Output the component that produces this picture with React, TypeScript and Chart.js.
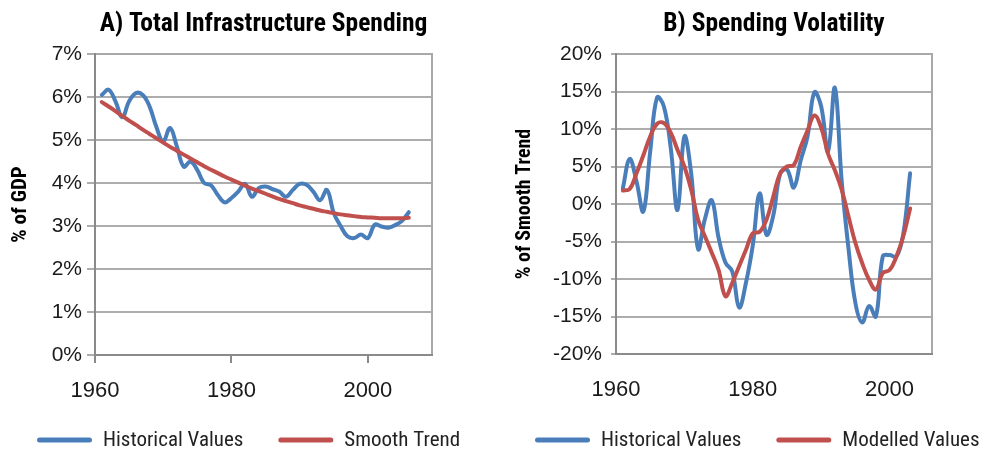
import React, { useEffect, useRef } from 'react';
import { Chart, registerables } from 'chart.js';

Chart.register(...registerables);

const COND = '"Roboto Condensed", "DejaVu Sans Condensed", sans-serif';
const SANS = '"Liberation Sans", Arial, sans-serif';
const BLUE = '#4a7ebb';
const RED = '#c0504d';
const GRID = '#adadad';
const AXIS = '#8a8a8a';
const FRAME = '#a9a9a9';
const TEXT = '#1a1a1a';

// ---- Panel A: Total Infrastructure Spending (% of GDP) ----
const yearsA = [
  1961, 1962, 1963, 1964, 1965, 1966, 1967, 1968, 1969, 1970,
  1971, 1972, 1973, 1974, 1975, 1976, 1977, 1978, 1979, 1980,
  1981, 1982, 1983, 1984, 1985, 1986, 1987, 1988, 1989, 1990,
  1991, 1992, 1993, 1994, 1995, 1996, 1997, 1998, 1999, 2000,
  2001, 2002, 2003, 2004, 2005, 2006,
];
const historicalA = [
  6.05, 6.17, 5.90, 5.53, 5.90, 6.09, 6.05, 5.78, 5.30, 4.97,
  5.28, 4.85, 4.38, 4.50, 4.30, 4.00, 3.95, 3.72, 3.55, 3.65,
  3.80, 3.98, 3.68, 3.88, 3.92, 3.86, 3.80, 3.68, 3.84, 3.98,
  3.96, 3.80, 3.60, 3.84, 3.30, 3.00, 2.76, 2.72, 2.80, 2.72,
  3.03, 2.99, 2.96, 3.02, 3.12, 3.32,
];
const trendA = [
  5.88, 5.78, 5.67, 5.56, 5.45, 5.35, 5.24, 5.14, 5.04, 4.94,
  4.84, 4.75, 4.66, 4.57, 4.48, 4.39, 4.31, 4.23, 4.15, 4.08,
  4.01, 3.94, 3.87, 3.81, 3.75, 3.69, 3.63, 3.58, 3.53, 3.48,
  3.44, 3.40, 3.36, 3.33, 3.30, 3.27, 3.25, 3.23, 3.21, 3.20,
  3.19, 3.18, 3.18, 3.18, 3.18, 3.19,
];

// ---- Panel B: Spending Volatility (% of smooth trend) ----
const yearsB = [
  1961, 1962, 1963, 1964, 1965, 1966, 1967, 1968, 1969, 1970,
  1971, 1972, 1973, 1974, 1975, 1976, 1977, 1978, 1979, 1980,
  1981, 1982, 1983, 1984, 1985, 1986, 1987, 1988, 1989, 1990,
  1991, 1992, 1993, 1994, 1995, 1996, 1997, 1998, 1999, 2000,
  2001, 2002, 2003,
];
const historicalB = [
  2.1, 6.0, 3.0, -1.0, 7.0, 14.2, 13.0, 7.5, -0.8, 9.0,
  4.0, -6.0, -2.0, 0.5, -4.5, -7.8, -9.0, -13.8, -10.5, -5.5,
  1.4, -4.1, -1.5, 4.0, 4.6, 2.2, 5.8, 9.0, 14.9, 13.0,
  7.0, 15.5, 3.0, -6.0, -13.2, -15.8, -13.6, -15.0, -7.0, -6.8,
  -7.0, -4.0, 4.1,
];
const modelledB = [
  1.8, 2.0, 4.1, 6.5, 9.0, 10.7, 10.8, 9.5, 7.2, 5.0,
  1.9, -2.1, -4.3, -6.5, -8.8, -12.3, -10.5, -8.3, -6.1, -3.9,
  -3.7, -2.1, 1.0, 4.1, 5.0, 5.2, 7.6, 9.8, 11.8, 10.2,
  6.7, 4.5, 1.9, -1.7, -5.2, -7.9, -10.1, -11.4, -9.2, -8.8,
  -7.0, -4.3, -0.6,
];

const xTickValues = [1960, 1980, 2000];

const titleA = 'A) Total Infrastructure Spending';
const titleB = 'B) Spending Volatility';
const yTitleA = '% of GDP';
const yTitleB = '% of Smooth Trend';
const legendA = ['Historical Values', 'Smooth Trend'];
const legendB = ['Historical Values', 'Modelled Values'];

// ---- plugins ----
const panelTitle = {
  id: 'panelTitle',
  afterDraw(chart: any, _args: any, opts: any) {
    const { ctx, chartArea } = chart;
    ctx.save();
    ctx.font = `bold 25.5px ${COND}`;
    ctx.fillStyle = '#000';
    ctx.textAlign = 'center';
    ctx.textBaseline = 'alphabetic';
    ctx.fillText(opts.text, (chartArea.left + chartArea.right) / 2, 31);
    ctx.restore();
  },
};

const panelLegend = {
  id: 'panelLegend',
  afterDraw(chart: any, _args: any, opts: any) {
    const { ctx } = chart;
    ctx.save();
    ctx.font = `21px ${COND}`;
    ctx.textBaseline = 'middle';
    ctx.textAlign = 'left';
    let x = opts.x;
    const y = opts.y;
    const sampleW = 55;
    chart.data.datasets
      .slice()
      .sort((a: any, b: any) => a.legendIndex - b.legendIndex)
      .forEach((ds: any) => {
        ctx.strokeStyle = ds.borderColor;
        ctx.lineWidth = 5;
        ctx.lineCap = 'round';
        ctx.beginPath();
        ctx.moveTo(x + 2.5, y);
        ctx.lineTo(x + sampleW - 2.5, y);
        ctx.stroke();
        ctx.fillStyle = '#222';
        ctx.fillText(ds.label, x + sampleW + 11, y + 1);
        x += sampleW + 11 + ctx.measureText(ds.label).width + 35;
      });
    ctx.restore();
  },
};

const plotFrame = {
  id: 'plotFrame',
  beforeDatasetsDraw(chart: any) {
    const { ctx, chartArea: a } = chart;
    ctx.save();
    ctx.lineCap = 'square';
    ctx.strokeStyle = FRAME;
    ctx.lineWidth = 2;
    ctx.beginPath();
    ctx.moveTo(a.left, a.top);
    ctx.lineTo(a.right, a.top);
    ctx.lineTo(a.right, a.bottom);
    ctx.stroke();
    ctx.strokeStyle = AXIS;
    ctx.lineWidth = 2;
    ctx.beginPath();
    ctx.moveTo(a.left, a.top);
    ctx.lineTo(a.left, a.bottom);
    ctx.lineTo(a.right, a.bottom);
    ctx.stroke();
    ctx.restore();
  },
};

function lineDataset(label: string, xs: number[], ys: number[], color: string, order: number, legendIndex: number) {
  return {
    label,
    data: xs.map((x, i) => ({ x, y: ys[i] })),
    borderColor: color,
    backgroundColor: color,
    borderWidth: 4,
    pointRadius: 0,
    pointHoverRadius: 0,
    tension: 0.4,
    fill: false,
    borderCapStyle: 'round',
    borderJoinStyle: 'round',
    order,
    legendIndex,
  };
}

function buildConfig(p: {
  datasets: any[];
  xMax: number;
  yMin: number;
  yMax: number;
  yStep: number;
  yWidth: number;
  xHeight: number;
  padRight: number;
  xTickMarks: boolean;
  xPad: number;
  yTickLen: number;
  yPad: number;
  yTitle: string;
  yTitleSize: number;
  yTitlePad: number;
  title: string;
  legendX: number;
}) {
  return {
    type: 'line',
    data: { datasets: p.datasets },
    options: {
      responsive: false,
      animation: false,
      events: [],
      layout: { padding: { left: 0, right: p.padRight, top: 54, bottom: 0 } },
      scales: {
        x: {
          type: 'linear',
          min: 1960,
          max: p.xMax,
          afterBuildTicks: (s: any) => {
            s.ticks = xTickValues.map((v) => ({ value: v }));
          },
          afterFit: (s: any) => {
            s.height = p.xHeight;
          },
          grid: {
            drawOnChartArea: false,
            drawTicks: p.xTickMarks,
            tickLength: 8,
            color: AXIS,
            lineWidth: 2,
          },
          border: { display: false },
          ticks: {
            padding: p.xPad,
            autoSkip: false,
            maxRotation: 0,
            color: TEXT,
            font: { family: SANS, size: 22 },
            callback: (v: any) => String(v),
          },
        },
        y: {
          type: 'linear',
          min: p.yMin,
          max: p.yMax,
          afterFit: (s: any) => {
            s.width = p.yWidth;
          },
          grid: { color: GRID, lineWidth: 2, drawTicks: true, tickLength: p.yTickLen },
          border: { display: false },
          ticks: {
            stepSize: p.yStep,
            padding: p.yPad,
            color: TEXT,
            font: { family: SANS, size: 21 },
            callback: (v: any) => `${v}%`,
          },
          title: {
            display: true,
            text: p.yTitle,
            color: '#000',
            font: { family: COND, size: p.yTitleSize, weight: 'bold' },
            padding: { top: p.yTitlePad, bottom: 0 },
          },
        },
      },
      plugins: {
        legend: { display: false },
        title: { display: false },
        tooltip: { enabled: false },
        panelTitle: { text: p.title },
        panelLegend: { x: p.legendX, y: 440 },
      },
    },
    plugins: [plotFrame, panelTitle, panelLegend],
  };
}

function Panel({ left, width, config }: { left: number; width: number; config: any }) {
  const ref = useRef<HTMLCanvasElement | null>(null);
  useEffect(() => {
    if (!ref.current) return;
    const chart = new Chart(ref.current, config);
    return () => chart.destroy();
  }, [config]);
  return (
    <canvas
      ref={ref}
      width={width}
      height={450}
      style={{ position: 'absolute', left, top: 0, width, height: 450 }}
    />
  );
}

const configA = buildConfig({
  datasets: [
    lineDataset(legendA[1], yearsA, trendA, RED, 0, 1),
    lineDataset(legendA[0], yearsA, historicalA, BLUE, 1, 0),
  ],
  xMax: 2009.4,
  yMin: 0,
  yMax: 7,
  yStep: 1,
  yWidth: 95,
  xHeight: 95,
  padRight: 58,
  xTickMarks: true,
  xPad: 15,
  yTickLen: 8,
  yPad: 5,
  yTitle: yTitleA,
  yTitleSize: 21,
  yTitlePad: 8,
  title: titleA,
  legendX: 37,
});

const configB = buildConfig({
  datasets: [
    lineDataset(legendB[1], yearsB, modelledB, RED, 0, 1),
    lineDataset(legendB[0], yearsB, historicalB, BLUE, 1, 0),
  ],
  xMax: 2006.2,
  yMin: -20,
  yMax: 20,
  yStep: 5,
  yWidth: 126,
  xHeight: 96,
  padRight: 53,
  xTickMarks: false,
  xPad: 23,
  yTickLen: 5,
  yPad: 9,
  yTitle: yTitleB,
  yTitleSize: 20,
  yTitlePad: 23,
  title: titleB,
  legendX: 45,
});

export default function App() {
  return (
    <div style={{ position: 'absolute', left: 0, top: 0, width: 985, height: 450, background: '#fff' }}>
      <Panel left={0} width={490} config={configA} />
      <Panel left={490} width={495} config={configB} />
    </div>
  );
}
